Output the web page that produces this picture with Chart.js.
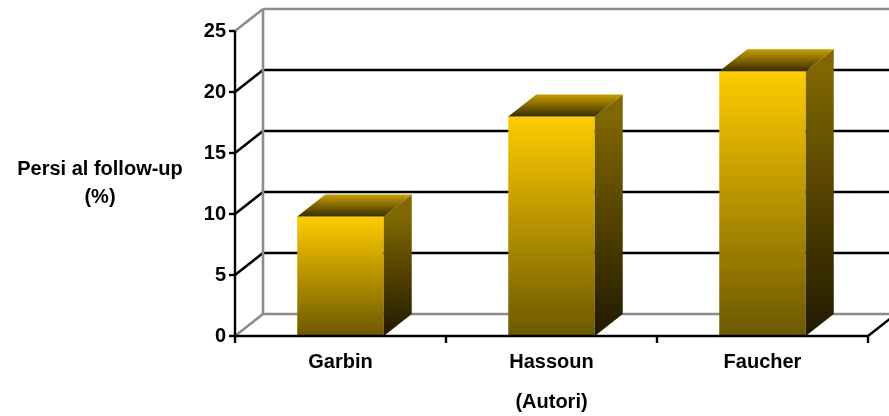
<!DOCTYPE html>
<html>
<head>
<meta charset="utf-8">
<script src="https://cdn.jsdelivr.net/npm/chart.js@4.4.1/dist/chart.umd.min.js"></script>
<style>
    html, body { margin: 0; padding: 0; background: #fff; }
    #wrap { width: 889px; height: 416px; position: relative; }
</style>
</head>
<body>
<div id="wrap"><canvas id="persiChart"></canvas></div>
<script>
// Dati del grafico
const autori = ['Garbin', 'Hassoun', 'Faucher'];
const persiFollowUp = [9.8, 18, 21.7];
const yMin = 0;
const yMax = 25;
const yStep = 5;
const yTitolo = ['Persi al follow-up', '(%)'];
const xTitolo = '(Autori)';

// Profondità dell'effetto 3D
const DX = 28;
const DY = -22;
const FONT = "'Liberation Sans', Arial, sans-serif";
const FONT_SIZE = 20;

function tickValues() {
    const vals = [];
    for (let v = yMin; v <= yMax; v += yStep) vals.push(v);
    return vals;
}

function line(c, x1, y1, x2, y2, color, width) {
    c.beginPath();
    c.moveTo(x1, y1);
    c.lineTo(x2, y2);
    c.strokeStyle = color;
    c.lineWidth = width;
    c.stroke();
}

// Pareti, griglia e titolo asse y
const wallsPlugin = {
    id: 'walls',
    beforeDatasetsDraw(chart) {
        const c = chart.ctx;
        const area = chart.chartArea;
        const y = chart.scales.y;
        c.save();
        tickValues().forEach(v => {
            const py = y.getPixelForValue(v);
            const grey = (v === yMin || v === yMax);
            const col = grey ? '#8c8c8c' : '#000';
            // diagonale parete sinistra
            line(c, area.left, py, area.left + DX, py + DY, col, 2.6);
            // linea parete di fondo
            line(c, area.left + DX, py + DY, area.right + DX, py + DY, col, 2.6);
        });
        // bordo verticale parete di fondo
        line(c, area.left + DX, y.getPixelForValue(yMax) + DY, area.left + DX, y.getPixelForValue(yMin) + DY, '#8c8c8c', 2.6);
        c.restore();
    },
    afterDatasetsDraw(chart) {
        const c = chart.ctx;
        const area = chart.chartArea;
        const x = chart.scales.x;
        const y = chart.scales.y;
        const y0 = y.getPixelForValue(yMin);
        c.save();

        // facce laterali e superiori delle barre
        const meta = chart.getDatasetMeta(0);
        meta.data.forEach(bar => {
            const half = bar.width / 2;
            const left = bar.x - half;
            const right = bar.x + half;
            const top = bar.y;
            const base = bar.base;

            const gSide = c.createLinearGradient(0, top, 0, base);
            gSide.addColorStop(0, '#806700');
            gSide.addColorStop(1, '#211900');
            c.beginPath();
            c.moveTo(right, top);
            c.lineTo(right + DX, top + DY);
            c.lineTo(right + DX, base + DY);
            c.lineTo(right, base);
            c.closePath();
            c.fillStyle = gSide;
            c.fill();

            const gTop = c.createLinearGradient(0, top + DY, 0, top);
            gTop.addColorStop(0, '#c8a000');
            gTop.addColorStop(1, '#382d00');
            c.beginPath();
            c.moveTo(left, top);
            c.lineTo(right, top);
            c.lineTo(right + DX, top + DY);
            c.lineTo(left + DX, top + DY);
            c.closePath();
            c.fillStyle = gTop;
            c.fill();
        });

        // assi frontali
        line(c, area.left, y.getPixelForValue(yMax), area.left, y0 + 7, '#000', 2.4);
        tickValues().forEach(v => {
            const py = y.getPixelForValue(v);
            line(c, area.left - 6, py, area.left, py, '#000', 2.4);
        });
        line(c, area.left, y0, area.right, y0, '#000', 2.4);
        for (let i = 0; i < autori.length; i++) {
            const px = x.getPixelForValue(i) + (x.getPixelForValue(1) - x.getPixelForValue(0)) / 2;
            line(c, px, y0, px, y0 + 7, '#000', 2.4);
        }
        line(c, area.right, y0, area.right + DX, y0 + DY, '#000', 2.4);

        // titolo asse y (orizzontale, su due righe)
        c.fillStyle = '#000';
        c.font = 'bold ' + FONT_SIZE + 'px ' + FONT;
        c.textAlign = 'center';
        c.textBaseline = 'middle';
        c.fillText(yTitolo[0], 100, 169);
        c.fillText(yTitolo[1], 100, 197);
        c.restore();
    }
};

function frontGradient(ctx) {
    const chart = ctx.chart;
    if (!chart.chartArea || ctx.type !== 'data') return '#ffcc00';
    const y = chart.scales.y;
    const top = y.getPixelForValue(ctx.parsed.y);
    const bottom = y.getPixelForValue(yMin);
    const g = chart.ctx.createLinearGradient(0, top, 0, bottom);
    g.addColorStop(0, '#ffcc00');
    g.addColorStop(1, '#6c5800');
    return g;
}

function initializeChart() {
    const ctx = document.getElementById('persiChart').getContext('2d');
    return new Chart(ctx, {
        type: 'bar',
        data: {
            labels: autori,
            datasets: [{
                label: 'Persi al follow-up (%)',
                data: persiFollowUp,
                backgroundColor: frontGradient,
                borderWidth: 0,
                barPercentage: 0.41,
                categoryPercentage: 1
            }]
        },
        plugins: [wallsPlugin],
        options: {
            responsive: true,
            maintainAspectRatio: false,
            animation: false,
            events: [],
            layout: { padding: { left: 0, right: 21, top: 31, bottom: 0 } },
            plugins: {
                legend: { display: false },
                tooltip: { enabled: false }
            },
            scales: {
                x: {
                    grid: { display: false, drawTicks: false },
                    border: { display: false },
                    ticks: { color: '#000', padding: 14, font: { family: FONT, size: FONT_SIZE, weight: 'bold' } },
                    title: {
                        display: true,
                        text: xTitolo,
                        color: '#000',
                        padding: { top: 0, bottom: 2 },
                        font: { family: FONT, size: FONT_SIZE, weight: 'bold' }
                    },
                    afterFit(scale) { scale.height = 80; }
                },
                y: {
                    min: yMin,
                    max: yMax,
                    grid: { display: false, drawTicks: false },
                    border: { display: false },
                    ticks: { stepSize: yStep, color: '#000', padding: 9, font: { family: FONT, size: FONT_SIZE, weight: 'bold' } },
                    afterFit(scale) { scale.width = 235; }
                }
            }
        }
    });
}

document.addEventListener('DOMContentLoaded', () => {
    initializeChart();
});
</script>
</body>
</html>
